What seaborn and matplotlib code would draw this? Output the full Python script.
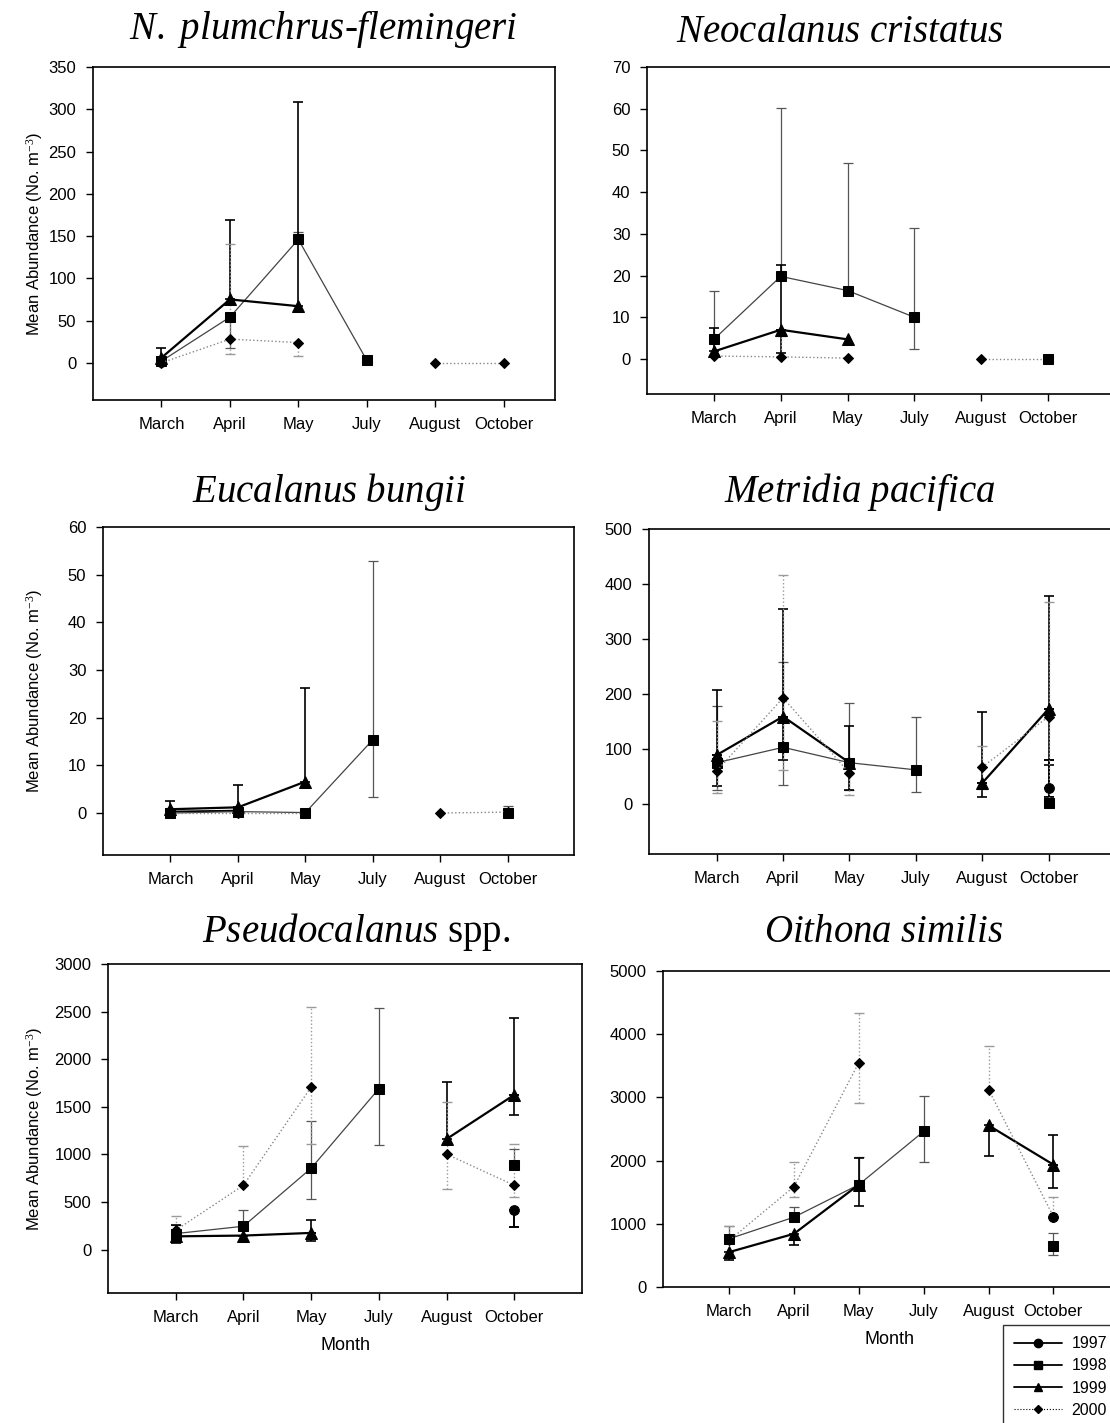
import numpy as np
import pandas as pd
import matplotlib
matplotlib.use("Agg")
import matplotlib.pyplot as plt
from matplotlib.lines import Line2D
import seaborn as sns

nan = np.nan
months = ["March", "April", "May", "July", "August", "October"]
years = ["1997", "1998", "1999", "2000"]

# ---- N. plumchrus-flemingeri ----
p1_mean = {"1997": [1, nan, nan, nan, nan, nan],
           "1998": [2, 54, 146, 3, nan, nan],
           "1999": [6, 75, 67, nan, nan, nan],
           "2000": [0, 28, 24, nan, 0, 0]}
p1_up = {"1997": [nan] * 6,
         "1998": [nan, nan, 155, nan, nan, nan],
         "1999": [18, 169, 308, nan, nan, nan],
         "2000": [nan, 140, nan, nan, nan, nan]}
p1_lo = {"1997": [nan] * 6,
         "1998": [nan, 18, nan, nan, nan, nan],
         "1999": [nan] * 6,
         "2000": [nan, 10, 8, nan, nan, nan]}

# ---- Neocalanus cristatus ----
p2_mean = {"1997": [nan] * 6,
           "1998": [4.7, 19.8, 16.4, 10.0, nan, 0.1],
           "1999": [1.8, 7.0, 4.7, nan, nan, nan],
           "2000": [0.7, 0.5, 0.2, nan, 0, 0]}
p2_up = {"1997": [nan] * 6,
         "1998": [16.4, 60.2, 47, 31.4, nan, nan],
         "1999": [7.4, 22.6, nan, nan, nan, nan],
         "2000": [nan, 5.4, nan, nan, nan, nan]}
p2_lo = {"1997": [nan] * 6,
         "1998": [nan, nan, nan, 2.3, nan, nan],
         "1999": [nan, 1.5, nan, nan, nan, nan],
         "2000": [nan] * 6}

# ---- Eucalanus bungii ----
p3_mean = {"1997": [0.3, 0.5, nan, nan, nan, nan],
           "1998": [0, 0.3, 0.1, 15.4, nan, 0.1],
           "1999": [0.8, 1.2, 6.6, nan, nan, nan],
           "2000": [0, 0, 0, nan, 0, 0.2]}
p3_up = {"1997": [nan] * 6,
         "1998": [nan, nan, nan, 52.8, nan, 1.4],
         "1999": [2.6, 5.8, 26.2, nan, nan, nan],
         "2000": [nan] * 6}
p3_lo = {"1997": [nan] * 6,
         "1998": [nan, nan, nan, 3.4, nan, nan],
         "1999": [nan] * 6,
         "2000": [nan] * 6}

# ---- Metridia pacifica ----
p4_mean = {"1997": [nan, nan, nan, nan, nan, 29],
           "1998": [75, 103, 75, 62, nan, 2],
           "1999": [89, 159, 75, nan, 38, 173],
           "2000": [60, 193, 56, nan, 67, 159]}
p4_up = {"1997": [nan, nan, nan, nan, nan, 80],
         "1998": [179, 259, 184, 159, nan, nan],
         "1999": [208, 355, 141, nan, 168, 379],
         "2000": [150, 417, nan, nan, 105, 368]}
p4_lo = {"1997": [nan, nan, nan, nan, nan, 12],
         "1998": [26, 34, 26, 21, nan, nan],
         "1999": [32, 80, 26, nan, 12, 70],
         "2000": [20, 62, 17, nan, 27, 11]}

# ---- Pseudocalanus spp. ----
p5_mean = {"1997": [nan, nan, nan, nan, nan, 415],
           "1998": [169, 246, 855, 1690, nan, 890],
           "1999": [140, 148, 176, nan, 1162, 1626],
           "2000": [204, 676, 1707, nan, 1003, 676]}
p5_up = {"1997": [nan] * 6,
         "1998": [264, 415, 1355, 2534, nan, 1056],
         "1999": [264, nan, 310, nan, 1760, 2436],
         "2000": [352, 1084, 2552, nan, 1556, 1109]}
p5_lo = {"1997": [nan, nan, nan, nan, nan, 239],
         "1998": [80, 100, 528, 1098, nan, nan],
         "1999": [70, 80, 95, nan, nan, 1415],
         "2000": [nan, nan, 1109, nan, 634, 553]}

# ---- Oithona similis ----
p6_mean = {"1997": [nan, nan, nan, nan, nan, 1100],
           "1998": [763, 1105, 1620, 2462, nan, 647],
           "1999": [552, 842, 1620, nan, 2557, 1936],
           "2000": [736, 1589, 3551, nan, 3125, 1115]}
p6_up = {"1997": [nan] * 6,
         "1998": [973, 1263, 2062, 3025, nan, 852],
         "1999": [nan, nan, 2040, nan, nan, 2409],
         "2000": [973, 1983, 4340, nan, 3814, 1420]}
p6_lo = {"1997": [nan] * 6,
         "1998": [nan, nan, nan, 1983, nan, 500],
         "1999": [421, 658, 1289, nan, 2067, 1562],
         "2000": [nan, 1420, 2919, nan, nan, nan]}

titles = [r"$\mathit{N.\ plumchrus}$-$\mathit{flemingeri}$", r"$\mathit{Neocalanus\ cristatus}$",
          r"$\mathit{Eucalanus\ bungii}$", r"$\mathit{Metridia\ pacifica}$",
          r"$\mathit{Pseudocalanus}$ spp.", r"$\mathit{Oithona\ similis}$"]
ylims = [(-44, 350), (-8.4, 70), (-8.8, 60), (-91, 500), (-455, 3000), (0, 5000)]
ysteps = [50, 10, 10, 100, 500, 1000]

# layout in pixels: left, right, top, bottom, xlim
W, H = 1110, 1423
boxes = [(93, 555, 67, 400, (-1.0, 5.75)),
         (647, 1115, 67, 394, (-1.0, 6.0)),
         (103, 574, 527, 855, (-1.0, 5.98)),
         (649, 1115, 529, 854, (-1.02, 6.0)),
         (108, 582, 964, 1293, (-1.0, 6.0)),
         (663, 1115, 971, 1287, (-1.02, 5.95))]
title_pos = [(323, 30), (840, 32), (329, 492), (860, 492), (356, 932), (884, 932)]

sns.set_style("ticks")
plt.rcParams["font.family"] = ["Liberation Sans", "DejaVu Sans"]
plt.rcParams["mathtext.fontset"] = "custom"
plt.rcParams["mathtext.rm"] = "Liberation Serif"
plt.rcParams["mathtext.it"] = "Liberation Serif:italic"
plt.rcParams["text.color"] = "black"
plt.rcParams["axes.labelcolor"] = "black"

styles = {
    "1997": dict(color="black", lw=1.4, ls="-", marker="o", ms=7, ecol="black", elw=1.4, els="-"),
    "1998": dict(color="#444444", lw=0.9, ls="-", marker="s", ms=7, ecol="#555555", elw=0.9, els="-"),
    "1999": dict(color="black", lw=1.6, ls="-", marker="^", ms=8, ecol="black", elw=1.2, els="-"),
    "2000": dict(color="#888888", lw=1.0, ls=":", marker="D", ms=5, ecol="#9a9a9a", elw=1.0, els=":"),
}

fig = plt.figure(figsize=(W / 100, H / 100), dpi=100)

panels = [(p1_mean, p1_up, p1_lo), (p2_mean, p2_up, p2_lo), (p3_mean, p3_up, p3_lo),
          (p4_mean, p4_up, p4_lo), (p5_mean, p5_up, p5_lo), (p6_mean, p6_up, p6_lo)]

xpos = np.arange(len(months))
for i, ((means, ups, los), (l, r, t, b, xl)) in enumerate(zip(panels, boxes)):
    ax = fig.add_axes([l / W, 1 - b / H, (r - l) / W, (b - t) / H])
    for yr in years:
        st = styles[yr]
        m = np.array(means[yr], dtype=float)
        u = np.array(ups[yr], dtype=float)
        lo = np.array(los[yr], dtype=float)
        mu = ~np.isnan(u) & ~np.isnan(m)
        if mu.any():
            eb = ax.errorbar(xpos[mu], m[mu], yerr=[np.zeros(mu.sum()), u[mu] - m[mu]], fmt="none",
                             ecolor=st["ecol"], elinewidth=st["elw"], capsize=3.5, capthick=st["elw"], zorder=1)
            eb[2][0].set_linestyle(st["els"])
        ml = ~np.isnan(lo) & ~np.isnan(m)
        if ml.any():
            eb = ax.errorbar(xpos[ml], m[ml], yerr=[m[ml] - lo[ml], np.zeros(ml.sum())], fmt="none",
                             ecolor=st["ecol"], elinewidth=st["elw"], capsize=3.5, capthick=st["elw"], zorder=1)
            eb[2][0].set_linestyle(st["els"])
        seg = np.cumsum(np.isnan(m))
        df = pd.DataFrame({"x": xpos, "value": m, "seg": seg}).dropna()
        if len(df):
            sns.lineplot(data=df, x="x", y="value", units="seg", estimator=None, sort=False,
                         color=st["color"], linewidth=st["lw"], linestyle=st["ls"],
                         marker=st["marker"], markersize=st["ms"], markerfacecolor="black",
                         markeredgecolor="black", legend=False, ax=ax, zorder=3)
    ax.set_xlim(*xl)
    ax.set_ylim(*ylims[i])
    ax.set_xticks(xpos)
    ax.set_xticklabels(months)
    ax.set_yticks(np.arange(0, ylims[i][1] + 1, ysteps[i]))
    ax.tick_params(direction="out", length=5, width=1, labelsize=12, pad=7, colors="black")
    for s in ax.spines.values():
        s.set_color("black")
        s.set_linewidth(1.2)
    ax.set_xlabel("")
    ax.set_ylabel("")
    if i % 2 == 0:
        ax.set_ylabel("Mean Abundance (No. m$^{-3}$)", fontsize=12)
        ax.yaxis.set_label_coords((45 - l) / (r - l), 0.5)
    if i >= 4:
        ax.set_xlabel("Month", fontsize=13, labelpad=9)
    tx, ty = title_pos[i]
    fig.text(tx / W, 1 - ty / H, titles[i], ha="center", va="center", fontsize=28,
             family="Liberation Serif")

handles = [Line2D([0], [0], color="black", lw=1.3, ls="-", marker="o", ms=6),
           Line2D([0], [0], color="black", lw=1.3, ls="-", marker="s", ms=6),
           Line2D([0], [0], color="black", lw=1.3, ls="-", marker="^", ms=6),
           Line2D([0], [0], color="black", lw=0.8, ls=":", marker="D", ms=4)]
leg = fig.legend(handles, years, loc="upper left", bbox_to_anchor=(1003 / W, 1 - 1325 / H),
                 frameon=True, fancybox=False, edgecolor="black", fontsize=11.5, handlelength=3.0,
                 handletextpad=0.6, borderpad=0.7, labelspacing=0.45, borderaxespad=0)
leg.get_frame().set_linewidth(1.0)

fig.savefig("out.png", dpi=100)
